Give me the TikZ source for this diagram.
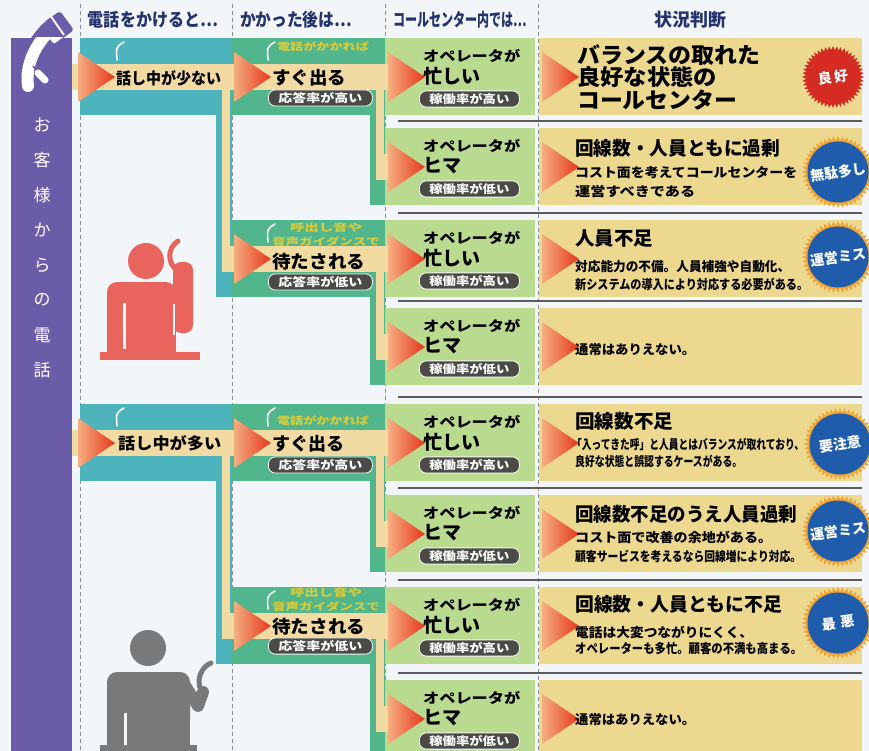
\documentclass[tikz,border=0pt]{standalone}
\usepackage{fontspec}
\setmainfont{Noto Sans CJK JP}
\usepackage{graphicx}
\usetikzlibrary{positioning}

\definecolor{bgpaper}{HTML}{F3F6F8}
\definecolor{rulegray}{HTML}{8A9296}
\definecolor{sepgray}{HTML}{5C5C5C}
\definecolor{headnavy}{HTML}{25326E}
\definecolor{callpurple}{HTML}{6A5CA8}
\definecolor{callteal}{HTML}{4DB4BD}
\definecolor{aftergreen}{HTML}{52B68C}
\definecolor{opgreen}{HTML}{B9DA8F}
\definecolor{judgekhaki}{HTML}{ECD98F}
\definecolor{flowtan}{HTML}{F1DBA3}
\definecolor{tiporange}{HTML}{F5AE80}
\definecolor{tipred}{HTML}{E6361C}
\definecolor{pillgray}{HTML}{4A4A47}
\definecolor{hintyellow}{HTML}{D8CC3E}
\definecolor{redman}{HTML}{E8645C}
\definecolor{grayman}{HTML}{78797A}
\definecolor{badgeblue}{HTML}{1F5DAC}
\definecolor{badgeedge}{HTML}{F2A435}
\definecolor{badgered}{HTML}{D42C22}

\tikzset{
  colrule/.style={draw=rulegray, line width=0.6pt, dash pattern=on 4pt off 3pt},
  seprule/.style={draw=sepgray, line width=1.4pt},
  colhead/.style={text=headnavy, font=\bfseries\fontsize{18}{18}\selectfont, inner sep=0pt},
  sidetxt/.style={text=white, font=\fontsize{17}{17}\selectfont, inner sep=0pt},
  leadtxt/.style={anchor=west, font=\bfseries\fontsize{16}{16}\selectfont, inner sep=0pt},
  acttxt/.style={anchor=west, font=\bfseries\fontsize{18}{18}\selectfont, inner sep=0pt},
  hinttxt/.style={text=hintyellow, font=\bfseries\fontsize{10}{10}\selectfont, inner sep=0pt},
  optxt/.style={anchor=west, font=\bfseries\fontsize{14}{14}\selectfont, inner sep=0pt},
  opstate/.style={anchor=west, font=\bfseries\fontsize{19}{19}\selectfont, inner sep=0pt},
  ratepill/.style={anchor=west, fill=pillgray, draw=white, line width=0.8pt, rounded corners=7pt,
    text=white, font=\bfseries\fontsize{11.5}{11.5}\selectfont, inner xsep=10pt, inner ysep=2.5pt},
  verdicttxt/.style={anchor=west, font=\bfseries\fontsize{22}{22}\selectfont, inner sep=0pt},
  judgetitle/.style={anchor=west, font=\bfseries\fontsize{19}{19}\selectfont, inner sep=0pt},
  judgenote/.style={anchor=west, font=\bfseries\fontsize{13}{13}\selectfont, inner sep=0pt},
  badgetxt/.style={text=white, font=\bfseries\fontsize{14}{14}\selectfont, rotate=8, inner sep=0pt}
}

\newcommand{\fw}[2]{\resizebox{#1pt}{\height}{#2}}
\newcommand{\flowtip}[2]{\shade[left color=tiporange, right color=tipred] (#1,#2+14) -- (#1+37,#2+39) -- (#1,#2+64) -- cycle;}
\newcommand{\handmark}[2]{\draw[white, line width=1.6pt, line cap=round] (#1+8,#2+4) .. controls (#1,#2+9) .. (#1+1,#2+22);}
\newcommand{\callbadge}[8]{%
  \fill[#6, shift={(#2,#3)}] (0:#4pt) \foreach \a in {0,7.5,...,352.5}{ -- (\a:#4pt) -- ({\a+3.75}:#5pt)} -- cycle;
  \fill[#7] (#2,#3) circle[radius=#5pt-1pt];
  \node[badgetxt] (#1) at (#2,#3) {#8};}

\begin{document}
\begin{tikzpicture}[x=1pt,y=-1pt]
\fill[bgpaper] (0,0) rectangle (869,751);
\useasboundingbox (0,0) rectangle (869,751);
\foreach \cx in {80,232,385,538}
  \draw[colrule] (\cx,4) -- (\cx,751);

\node[colhead] (hdCall) at (153,20) {\fw{130}{電話をかけると…}};
\node[colhead] (hdAfter) at (296,20) {\fw{112}{かかった後は…}};
\node[colhead] (hdCenter) at (460,20) {\fw{134}{コールセンター内では…}};
\node[colhead] (hdJudge) at (690,20) {\fw{72}{状況判断}};

% caller bar with handset
\fill[callpurple] (11,38) rectangle (72,751);
\fill[callpurple, rounded corners=3pt] (44,22) -- (60,11) -- (74,30) -- (58,42) -- cycle;
\draw[callpurple, line width=19pt, line cap=round] (50,30) .. controls (36,44) and (25,64) .. (28,86);
\begin{scope}
  \clip (11,38) rectangle (72,751);
  \draw[white, line width=12pt, line cap=round] (49,31) .. controls (36,45) and (25,64) .. (28,86);
  \fill[white, rounded corners=2pt] (44,32) -- (57,23) -- (66,35) -- (54,44) -- cycle;
  \draw[callpurple, line width=1.5pt] (33,66) -- (44,80);
  \draw[white, line width=7pt, line cap=round] (38,73) -- (45,80);
\end{scope}
\draw[bgpaper, line width=2pt] (50,15) -- (64,35);
\foreach \ch [count=\i] in {お,客,様,か,ら,の,電,話}
  \node[sidetxt] (side\i) at (42,{90+35*\i}) {\ch};

% rows of columns 3 and 4
\foreach \t in {38,128,220,308,404,495,587,680}{
  \fill[opgreen] (385,\t) rectangle (535,\t+77);
  \fill[judgekhaki] (539,\t) rectangle (862,\t+77);
}
\foreach \t in {128,220,308,404,495,587,680}
  \draw[seprule] (398,\t-7) -- (862,\t-7);

% columns 1 and 2 with their drop bands
\foreach \t/\n in {38/220,404/587}{
  \fill[callteal] (80,\t) rectangle (232,\t+77);
  \fill[callteal] (216,\t+77) rectangle (232,\n+77);
}
\foreach \t/\n in {38/128,220/308,404/495,587/680}{
  \fill[aftergreen] (232,\t) rectangle (385,\t+77);
  \fill[aftergreen] (370,\t+77) rectangle (385,\n+77);
}

% flow stripes
\foreach \t/\n in {38/220,404/587}{
  \fill[flowtan] (72,\t+26) rectangle (390,\t+52);
  \fill[flowtan] (222,\t+39) rectangle (230,\n+52);
  \fill[flowtan] (222,\n+26) rectangle (390,\n+52);
}
\foreach \t/\n in {38/128,220/308,404/495,587/680}{
  \fill[flowtan] (376,\t+39) rectangle (384,\n+52);
  \fill[flowtan] (376,\n+26) rectangle (390,\n+52);
}

\foreach \t in {38,404}{\flowtip{78}{\t}}
\foreach \t in {38,220,404,587}{\flowtip{234}{\t}}
\foreach \t in {38,128,220,308,404,495,587,680}{\flowtip{388}{\t}\flowtip{542}{\t}}
\foreach \t in {38,404}{\handmark{116}{\t}}
\foreach \t in {38,220,404,587}{\handmark{267}{\t}}

% column 1
\node[leadtxt] (fewBusy) at (116,78) {\fw{105}{話し中が少ない}};
\node[leadtxt] (manyBusy) at (118,443) {\fw{103}{話し中が多い}};

% column 2
\node[hinttxt] (hintA) at (323,47) {\fw{92}{電話がかかれば}};
\node[acttxt] (quickA) at (272,78) {\fw{74}{すぐ出る}};
\node[ratepill] (ansA) at (268,98) {\fw{84}{応答率が高い}};
\node[hinttxt] (hintB1) at (326,228) {\fw{72}{呼出し音や}};
\node[hinttxt] (hintB2) at (326,242) {\fw{108}{音声ガイダンスで}};
\node[acttxt] (waitB) at (272,262) {\fw{93}{待たされる}};
\node[ratepill] (ansB) at (268,282) {\fw{84}{応答率が低い}};
\node[hinttxt] (hintC) at (323,421) {\fw{92}{電話がかかれば}};
\node[acttxt] (quickC) at (272,444) {\fw{72}{すぐ出る}};
\node[ratepill] (ansC) at (268,465) {\fw{84}{応答率が高い}};
\node[hinttxt] (hintD1) at (326,593) {\fw{72}{呼出し音や}};
\node[hinttxt] (hintD2) at (326,607) {\fw{108}{音声ガイダンスで}};
\node[acttxt] (waitD) at (272,627) {\fw{93}{待たされる}};
\node[ratepill] (ansD) at (268,646) {\fw{84}{応答率が低い}};

% column 3
\foreach \t/\s/\r [count=\i] in {38/忙しい/高い,128/ヒマ/低い,220/忙しい/高い,308/ヒマ/低い,
    404/忙しい/高い,495/ヒマ/低い,587/忙しい/高い,680/ヒマ/低い}{
  \node[optxt] (op\i) at (423,\t+18) {\fw{97}{オペレータが}};
  \node[opstate] (st\i) at (423,\t+38) {\s};
  \node[ratepill] (load\i) at (419,\t+61) {\fw{80}{稼働率が\r}};
}

% column 4
\node[verdicttxt] (good1) at (577,55) {\fw{183}{バランスの取れた}};
\node[verdicttxt] (good2) at (577,77) {\fw{140}{良好な状態の}};
\node[verdicttxt] (good3) at (577,100) {\fw{160}{コールセンター}};

\node[judgetitle] (over) at (575,148) {\fw{205}{回線数・人員ともに過剰}};
\node[judgenote] (overA) at (575,173) {\fw{222}{コスト面を考えてコールセンターを}};
\node[judgenote] (overB) at (575,192) {\fw{120}{運営すべきである}};

\node[judgetitle] (short) at (575,238) {\fw{78}{人員不足}};
\node[judgenote] (shortA) at (575,267) {\fw{215}{対応能力の不備。人員補強や自動化、}};
\node[judgenote] (shortB) at (575,284) {\fw{233}{新システムの導入により対応する必要がある。}};

\node[judgenote] (never1) at (575,350) {\fw{120}{通常はありえない。}};

\node[judgetitle] (lines) at (575,421) {\fw{98}{回線数不足}};
\node[judgenote] (linesA) at (572,444) {\fw{232}{「入ってきた呼」と人員とはバランスが取れており、}};
\node[judgenote] (linesB) at (575,461) {\fw{167}{良好な状態と誤認するケースがある。}};

\node[judgetitle] (linesOver) at (575,514) {\fw{222}{回線数不足のうえ人員過剰}};
\node[judgenote] (linesOverA) at (575,537) {\fw{197}{コスト面で改善の余地がある。}};
\node[judgenote] (linesOverB) at (575,556) {\fw{226}{顧客サービスを考えるなら回線増により対応。}};

\node[judgetitle] (both) at (575,604) {\fw{207}{回線数・人員ともに不足}};
\node[judgenote] (bothA) at (575,632) {\fw{178}{電話は大変つながりにくく、}};
\node[judgenote] (bothB) at (575,649) {\fw{227}{オペレーターも多忙。顧客の不満も高まる。}};

\node[judgenote] (never2) at (575,720) {\fw{120}{通常はありえない。}};

% badges
\callbadge{bGood}{833}{77}{31}{27}{badgered}{badgered}{良\,好}
\callbadge{bWaste}{838}{172}{36}{31.5}{badgeedge}{badgeblue}{無駄多し}
\callbadge{bMiss1}{838}{257}{36}{31.5}{badgeedge}{badgeblue}{運営ミス}
\callbadge{bCare}{840}{444}{36}{31.5}{badgeedge}{badgeblue}{要注意}
\callbadge{bMiss2}{838}{531}{36}{31.5}{badgeedge}{badgeblue}{運営ミス}
\callbadge{bWorst}{838}{623}{36}{31.5}{badgeedge}{badgeblue}{最\,\,悪}

% red caller
\fill[redman] (146,261) circle[radius=18pt];
\fill[redman, rounded corners=10pt] (107,282) rectangle (176,335);
\fill[redman] (107,315) rectangle (176,353);
\fill[redman, rounded corners=8pt] (173,262) rectangle (193,333);
\draw[bgpaper, line width=3pt] (124,303) -- (124,349);
\draw[bgpaper, line width=2pt] (174,304) -- (174,335);
\draw[redman, line width=5pt, line cap=round] (178,241) .. controls (167,248) and (167,264) .. (178,271);
\fill[redman] (100,352) rectangle (200,360);

% gray caller
\fill[grayman] (148,648) circle[radius=18pt];
\fill[grayman, rounded corners=10pt] (107,672) rectangle (190,730);
\fill[grayman] (107,700) rectangle (190,745);
\draw[bgpaper, line width=3pt] (125,713) -- (125,746);
\draw[grayman, line width=12pt, line cap=round, line join=round] (184,684) -- (198,706) -- (203,692);
\draw[grayman, line width=5pt, line cap=round] (211,663) .. controls (201,667) and (196,680) .. (201,690);
\fill[grayman] (100,745) rectangle (197,751);
\end{tikzpicture}
\end{document}
